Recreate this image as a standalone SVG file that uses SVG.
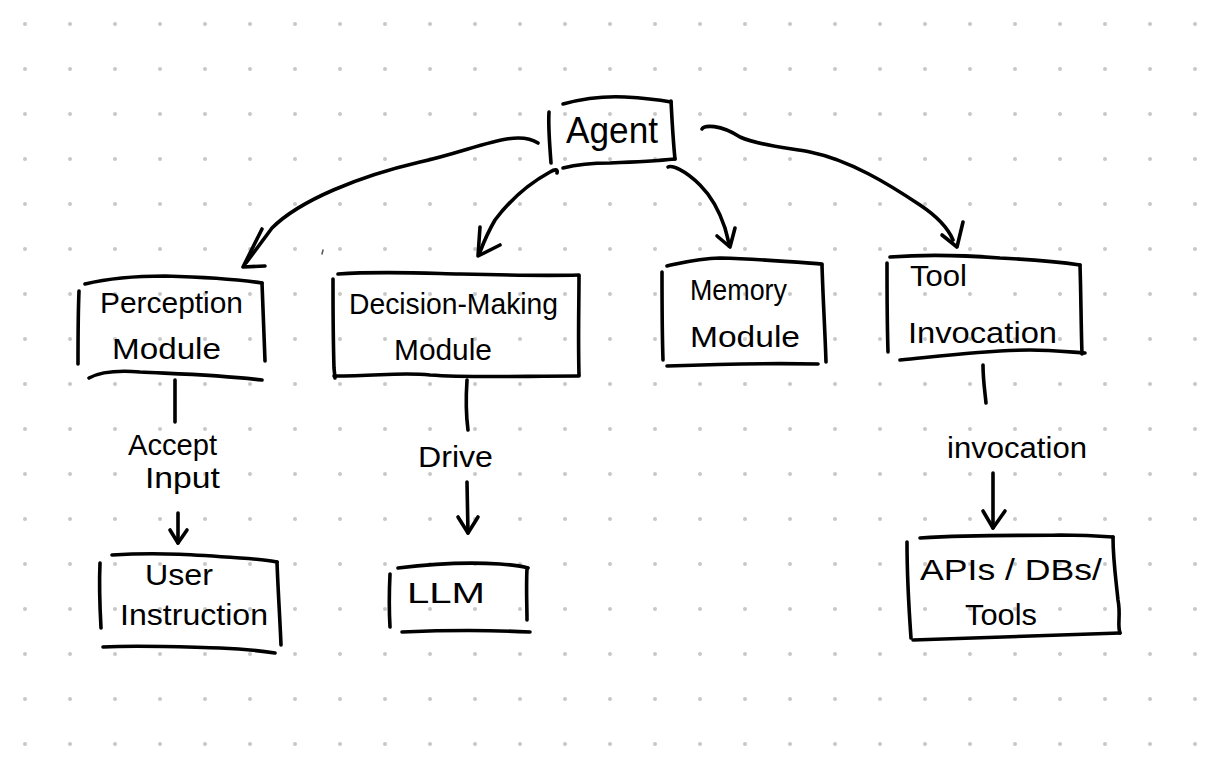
<svg xmlns="http://www.w3.org/2000/svg" width="1221" height="764" viewBox="0 0 1221 764">
<defs>
<pattern id="dots" x="0" y="0" width="45" height="45" patternUnits="userSpaceOnUse">
<circle cx="25" cy="24" r="2" fill="#c8c8c8"/>
</pattern>
<style>
.s{fill:none;stroke:#000;stroke-width:3.6;stroke-linecap:round;stroke-linejoin:round}
.t{font-family:"Liberation Sans","DejaVu Sans",sans-serif;font-size:30px;fill:#000}
</style>
</defs>
<rect width="1221" height="764" fill="#fff"/>
<rect width="1221" height="764" fill="url(#dots)"/>

<g id="connectors">
<path class="s" d="M538,143 C515,128 475,150 420,162 C360,176 300,200 272,228 L246,263"/>
<path class="s" d="M262,229 L243,267 L265,266"/>
<path class="s" d="M557,173 C558,169 555,169 550,172 C530,183 510,200 495,220 C488,232 483,244 480,252"/>
<path class="s" d="M480,227 L478,256 L500,245"/>
<path class="s" d="M668,167 C672,165 685,170 700,185 C712,197 720,213 725,228 C727,236 729,242 729,246"/>
<path class="s" d="M717,236 L730,247 L735,228"/>
<path class="s" d="M702,129 C704,125 720,124 740,137 C760,146 790,148 810,152 C850,160 890,185 920,205 C935,215 948,228 953,240"/>
<path class="s" d="M942,235 L957,247 L963,222"/>
<path class="s" d="M175,380 L175,422"/>
<text class="t" x="128" y="455" textLength="89" lengthAdjust="spacingAndGlyphs">Accept</text>
<text class="t" x="145" y="488" textLength="75" lengthAdjust="spacingAndGlyphs">Input</text>
<path class="s" d="M178,513 L178,543"/>
<path class="s" d="M170,530 L178,543 L187,530"/>
<path class="s" d="M467,380 C466,395 466,415 468,430"/>
<text class="t" x="418" y="467" textLength="75" lengthAdjust="spacingAndGlyphs">Drive</text>
<path class="s" d="M467,482 L468,533"/>
<path class="s" d="M458,517 L468,533 L478,517"/>
<path class="s" d="M983,365 C983,380 985,392 986,403"/>
<text class="t" x="947" y="458" textLength="140" lengthAdjust="spacingAndGlyphs">invocation</text>
<path class="s" d="M993,473 L993,528"/>
<path class="s" d="M983,511 L993,528 L1005,511"/>
<path d="M323,250 L322,254" stroke="#555" stroke-width="1.5" fill="none" stroke-linecap="round"/>
</g>

<g id="agent">
<path class="s" d="M549,112 C548,128 550,148 551,163"/>
<path class="s" d="M563,104 C585,98 605,96 625,97 C645,98 660,100 671,102"/>
<path class="s" d="M671,101 C672,120 673,140 675,159"/>
<path class="s" d="M563,168 C575,165 590,163 610,163 C635,162 655,161 675,159"/>
<text class="t" x="566" y="143" style="font-size:36px" textLength="92" lengthAdjust="spacingAndGlyphs">Agent</text>
</g>

<g id="perception">
<path class="s" d="M79,291 C78,315 78,340 78,364"/>
<path class="s" d="M85,284 C110,278 140,276 165,276 C200,277 235,279 262,283"/>
<path class="s" d="M262,283 C263,305 264,330 265,361"/>
<path class="s" d="M89,378 C100,372 115,370 140,372 C180,374 220,375 262,380"/>
<text class="t" x="100" y="313" textLength="143" lengthAdjust="spacingAndGlyphs">Perception</text>
<text class="t" x="112" y="359" textLength="109" lengthAdjust="spacingAndGlyphs">Module</text>
</g>

<g id="decision">
<path class="s" d="M333,279 C333,305 333,335 334,368 L335,378"/>
<path class="s" d="M338,274 C380,271 420,273 460,274 C500,275 540,276 579,275"/>
<path class="s" d="M579,276 C579,305 578,335 579,375"/>
<path class="s" d="M334,376 C380,376 400,372 430,375 C470,378 520,376 579,376"/>
<text class="t" x="349" y="314" textLength="209" lengthAdjust="spacingAndGlyphs">Decision-Making</text>
<text class="t" x="394" y="360" textLength="98" lengthAdjust="spacingAndGlyphs">Module</text>
</g>

<g id="memory">
<path class="s" d="M662,272 C662,300 662,330 663,360"/>
<path class="s" d="M667,266 C685,262 700,258 720,258 C760,259 795,262 822,264"/>
<path class="s" d="M822,265 C823,300 825,330 826,362"/>
<path class="s" d="M667,366 C720,364 770,363 818,364"/>
<text class="t" x="690" y="300" textLength="97" lengthAdjust="spacingAndGlyphs">Memory</text>
<text class="t" x="690" y="347" textLength="110" lengthAdjust="spacingAndGlyphs">Module</text>
</g>

<g id="tool">
<path class="s" d="M887,263 C887,290 887,320 888,352"/>
<path class="s" d="M890,257 C930,254 960,255 1000,258 C1040,260 1060,262 1080,265"/>
<path class="s" d="M1080,265 C1081,295 1081,325 1082,354"/>
<path class="s" d="M900,360 C950,355 990,350 1030,350 C1050,350 1070,352 1085,353"/>
<text class="t" x="910" y="286" textLength="57" lengthAdjust="spacingAndGlyphs">Tool</text>
<text class="t" x="908" y="343" textLength="149" lengthAdjust="spacingAndGlyphs">Invocation</text>
</g>

<g id="user">
<path class="s" d="M112,555 C160,552 200,555 240,558 C255,559 268,560 277,562"/>
<path class="s" d="M100,563 C99,585 100,610 101,628"/>
<path class="s" d="M277,562 C278,590 280,620 281,645"/>
<path class="s" d="M103,647 C140,645 180,647 220,648 C245,649 262,651 275,653"/>
<text class="t" x="145" y="585" textLength="68" lengthAdjust="spacingAndGlyphs">User</text>
<text class="t" x="120" y="625" textLength="148" lengthAdjust="spacingAndGlyphs">Instruction</text>
</g>

<g id="llm">
<path class="s" d="M398,568 C430,564 470,562 500,564 C515,565 522,566 528,568"/>
<path class="s" d="M390,574 C389,595 389,610 390,627"/>
<path class="s" d="M527,568 C526,590 527,605 527,620"/>
<path class="s" d="M402,632 C450,630 490,630 530,632"/>
<text class="t" x="407" y="603" textLength="78" lengthAdjust="spacingAndGlyphs">LLM</text>
</g>

<g id="apis">
<path class="s" d="M920,538 C980,534 1020,536 1060,535 C1085,535 1100,536 1113,537"/>
<path class="s" d="M907,542 C907,575 909,610 911,638"/>
<path class="s" d="M1113,537 C1113,560 1116,580 1118,600 C1121,615 1117,625 1120,633"/>
<path class="s" d="M913,640 C980,638 1050,636 1120,633"/>
<text class="t" x="920" y="580" textLength="182" lengthAdjust="spacingAndGlyphs">APIs / DBs/</text>
<text class="t" x="965" y="625" textLength="72" lengthAdjust="spacingAndGlyphs">Tools</text>
</g>
</svg>
